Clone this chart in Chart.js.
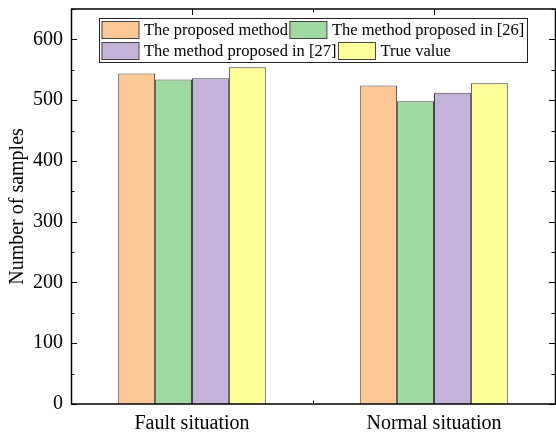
<!DOCTYPE html>
<html>
<head>
<meta charset="utf-8">
<script src="https://cdn.jsdelivr.net/npm/chart.js@4/dist/chart.umd.min.js"></script>
<style>
  html, body { margin: 0; padding: 0; background: #fff; overflow: hidden; }
  #wrap { width: 556px; height: 432px; }
</style>
</head>
<body>
<div id="wrap"><canvas id="chart" width="556" height="432"></canvas></div>
<script>
  // Data
  const categories = ['Fault situation', 'Normal situation'];
  const seriesNames = [
    'The proposed method',
    'The method proposed in [26]',
    'The method proposed in [27]',
    'True value'
  ];
  const proposed = [544, 524];
  const method26 = [534, 498];
  const method27 = [536, 512];
  const trueValue = [554, 528];
  const seriesColors = ['#FCC895', '#A0DAA0', '#C3B3D8', '#FFFF99'];

  const FONT = '"Liberation Serif", "Times New Roman", serif';

  // Frame + inward ticks, drawn under the bars
  const framePlugin = {
    id: 'frame',
    beforeDatasetsDraw(chart) {
      const { ctx, chartArea: a, scales: { x, y } } = chart;
      ctx.save();
      ctx.strokeStyle = '#000';
      ctx.lineWidth = 1;
      ctx.beginPath();
      y.ticks.forEach(t => {
        const py = Math.round(y.getPixelForValue(t.value)) + 0.5;
        const len = t.value % 100 === 0 ? 6 : 3.5;
        ctx.moveTo(a.left, py); ctx.lineTo(a.left + len, py);
        ctx.moveTo(a.right, py); ctx.lineTo(a.right - len, py);
      });
      const xs = [x.getPixelForValue(0), (x.getPixelForValue(0) + x.getPixelForValue(1)) / 2, x.getPixelForValue(1)];
      xs.forEach((px, i) => {
        const p = Math.round(px) + 0.5;
        const len = i === 1 ? 3.5 : 6;
        ctx.moveTo(p, a.top); ctx.lineTo(p, a.top + len);
        ctx.moveTo(p, a.bottom); ctx.lineTo(p, a.bottom - len);
      });
      ctx.stroke();
      ctx.restore();
    },
    afterDatasetsDraw(chart) {
      const { ctx, chartArea: a } = chart;
      ctx.save();
      ctx.strokeStyle = '#000';
      ctx.lineWidth = 1.5;
      ctx.strokeRect(a.left + 0.5, a.top, a.right - a.left, a.bottom - a.top);
      ctx.restore();
    }
  };

  // Legend box inside the plot, flowing like the original
  const legendPlugin = {
    id: 'boxLegend',
    afterDraw(chart) {
      const { ctx } = chart;
      const rows = [[0, 1], [2, 3]];
      const rowY = [30, 51];
      ctx.save();
      ctx.fillStyle = '#fff';
      ctx.fillRect(99, 18, 428, 44);
      ctx.strokeStyle = '#222';
      ctx.lineWidth = 1;
      ctx.strokeRect(99.5, 18.5, 428, 44);
      ctx.font = '16.5px ' + FONT;
      ctx.textBaseline = 'middle';
      rows.forEach((row, r) => {
        let px = 101.5;
        row.forEach(i => {
          const ds = chart.data.datasets[i];
          ctx.fillStyle = ds.backgroundColor;
          ctx.fillRect(px, rowY[r] - 9, 37.5, 18);
          ctx.strokeStyle = '#444';
          ctx.strokeRect(px + 0.5, rowY[r] - 8.5, 37, 17);
          ctx.fillStyle = '#000';
          const tx = px + 42.5;
          ctx.fillText(ds.label, tx, rowY[r] + 1);
          px = tx + ctx.measureText(ds.label).width + 1.5;
        });
      });
      ctx.restore();
    }
  };

  const values = [proposed, method26, method27, trueValue];

  new Chart(document.getElementById('chart'), {
    type: 'bar',
    data: {
      labels: categories,
      datasets: values.map((v, i) => ({
        label: seriesNames[i],
        data: v,
        backgroundColor: seriesColors[i],
        borderColor: '#444',
        borderWidth: 1,
        barPercentage: 1,
        categoryPercentage: 0.61
      }))
    },
    options: {
      responsive: false,
      animation: false,
      layout: { padding: { left: 0, right: 1, top: 9, bottom: 0 } },
      plugins: { legend: { display: false }, tooltip: { enabled: false } },
      scales: {
        x: {
          offset: true,
          grid: { display: false, drawTicks: false },
          border: { display: false },
          ticks: { color: '#000', font: { family: FONT, size: 20 }, padding: 8, maxRotation: 0 },
          afterFit: s => { s.height = 28; s.paddingLeft = 0; s.paddingRight = 0; }
        },
        y: {
          min: 0,
          max: 650,
          grid: { display: false, drawTicks: false },
          border: { display: false },
          ticks: {
            stepSize: 50,
            color: '#000',
            font: { family: FONT, size: 20 },
            padding: 8,
            callback: v => (v % 100 === 0 ? v : '')
          },
          title: {
            display: true,
            text: 'Number of samples',
            color: '#000',
            font: { family: FONT, size: 20 },
            padding: { top: 6, bottom: 0 }
          },
          afterFit: s => { s.width = 71; s.paddingTop = 0; s.paddingBottom = 0; }
        }
      }
    },
    plugins: [framePlugin, legendPlugin]
  });
</script>
</body>
</html>
